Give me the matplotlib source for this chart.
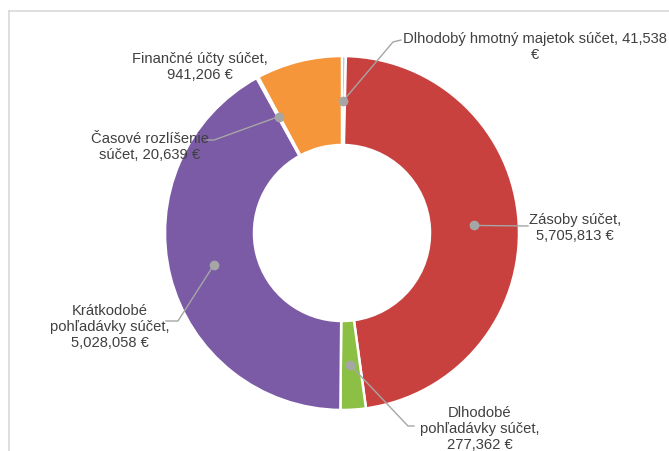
import numpy as np
import matplotlib.pyplot as plt

labels = ["Dlhodobý hmotný majetok súčet, 41,538\n€",
          "Zásoby súčet,\n5,705,813 €",
          "Dlhodobé\npohľadávky súčet,\n277,362 €",
          "Krátkodobé\npohľadávky súčet,\n5,028,058 €",
          "Časové rozlíšenie\nsúčet, 20,639 €",
          "Finančné účty súčet,\n941,206 €"]
values = [41538, 5705813, 277362, 5028058, 20639, 941206]
colors = ["#7FA8D6", "#C8413E", "#8CC045", "#7C5BA6", "#4BACC6", "#F5963A"]

# label text centres and leader elbows (pixels)
text_pos = [(535, 47), (575, 228), (480, 429), (110, 327), (150, 147), (200, 67)]
elbows = [[(393, 43), (401, 41)], [(528, 227)], [(408, 427), (414, 427)],
          [(178, 322), (166, 322)], [(214, 141), (207, 141)], None]

W, H = 669, 452
cx, cy = 342, 234
R, ring = 177, 89

fig = plt.figure(figsize=(W / 100, H / 100), dpi=100)
ax = fig.add_axes([0, 0, 1, 1])
wedges, _ = ax.pie(values, colors=colors, startangle=90, counterclock=False,
                   radius=R, wedgeprops=dict(width=ring, edgecolor="white", linewidth=1.8))
ax.set_xlim(-cx, W - cx)
ax.set_ylim(cy - H, cy)
ax.set_aspect("equal")
ax.axis("off")

def px(p):
    return p[0] - cx, cy - p[1]

rm = R - ring / 2
for w, lab, tp, el in zip(wedges, labels, text_pos, elbows):
    a = np.deg2rad((w.theta1 + w.theta2) / 2)
    dot = (rm * np.cos(a), rm * np.sin(a))
    if el is not None:
        pts = [dot] + [px(p) for p in el]
        xs, ys = zip(*pts)
        ax.plot(xs, ys, color="#A6A6A6", lw=1, zorder=3)
        ax.plot(*dot, "o", ms=6, color="#A6A6A6", zorder=4)
    tx, ty = px(tp)
    ax.text(tx, ty, lab, ha="center", va="center", fontsize=10.6, color="#404040",
            family=["Liberation Sans Narrow", "Liberation Sans", "DejaVu Sans"], linespacing=1.2)

# chart area frame
fig.add_artist(plt.Line2D([9 / W, 9 / W], [0, 1 - 12 / H], color="#D9D9D9", lw=1.2))
fig.add_artist(plt.Line2D([9 / W, 1], [1 - 12 / H, 1 - 12 / H], color="#D9D9D9", lw=1.2))

fig.savefig("out.png", dpi=100)
